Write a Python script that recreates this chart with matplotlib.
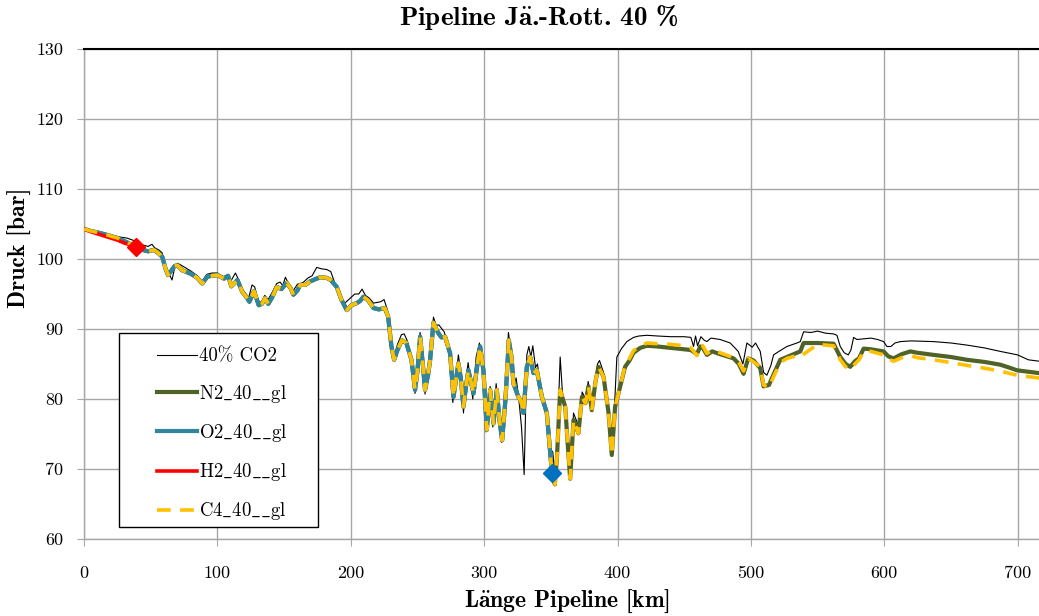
import matplotlib
matplotlib.use("Agg")
import matplotlib.pyplot as plt
from matplotlib.patches import Rectangle

# --- data (km, bar) ---
n2_km = [0, 5, 10, 18, 25, 32, 38.8, 44, 48, 52.5, 56, 58.7, 61, 63, 65, 68, 70, 73.5, 80, 85,
         88.7, 92.5, 100, 105, 108, 110.5, 115, 118.7, 122, 124, 127.5, 131, 133.5, 135.7, 138.2, 141, 144.5, 148, 152, 155,
         157, 160, 162, 166, 169.5, 177, 182, 185, 189.5, 193, 197, 200.5, 204.5, 207, 209.5, 213, 217, 221, 225.5, 228,
         230.5, 232.5, 235, 238.3, 241.7, 245.5, 248.2, 250, 252, 254, 255.7, 258, 259.5, 262, 264, 265.7, 268, 270.7, 274.5, 277,
         280.7, 282.5, 284.5, 286.5, 288.2, 292, 295, 297, 299.5, 302, 304.5, 307, 309.5, 311.5, 313.5, 316, 318.5, 320.5, 322, 325.7,
         328, 329.5, 332, 334.5, 337, 339.5, 343.3, 347, 349, 350.8, 353, 354.5, 357, 359, 360.8, 362.5, 364.5, 367, 370.7, 373.3,
         376, 378.2, 380.7, 383.5, 385.7, 389.5, 393.3, 395.7, 398.2, 402, 405.7, 409, 412, 417, 422, 430, 440, 450, 455, 459.5,
         462, 464, 467, 471, 477, 487, 491, 494.5, 498, 502, 507, 509.5, 513.5, 517, 522, 527, 534.5, 537, 539.5, 550,
         562, 567, 571, 574.5, 578, 581, 584.5, 590, 599.5, 603, 607, 613, 619.5, 625, 637, 650, 662, 675, 687, 695,
         699.5, 708, 716]
n2_bar = [104.3, 104.0, 103.8, 103.4, 103.0, 102.4, 101.7, 101.3, 101.1, 101.3, 100.8, 100.3, 98.7, 97.7, 98.2, 99.0, 99.1, 98.4, 97.9, 97.3,
          96.5, 97.5, 97.7, 97.2, 97.6, 96.1, 97.0, 95.3, 94.5, 93.9, 95.4, 93.4, 93.6, 94.4, 93.6, 94.5, 96.0, 95.7, 96.6, 95.8,
          94.9, 95.5, 96.3, 96.3, 96.8, 97.4, 97.3, 97.0, 96.0, 94.2, 92.7, 93.4, 93.7, 94.0, 94.6, 94.1, 93.0, 92.8, 93.0, 91.8,
          87.5, 85.6, 87.0, 88.4, 88.0, 85.6, 81.3, 84.0, 88.9, 85.0, 81.3, 83.5, 85.6, 90.9, 90.0, 89.4, 88.8, 88.9, 86.5, 80.3,
          85.1, 83.0, 78.9, 82.0, 84.1, 80.8, 85.0, 87.5, 84.0, 75.6, 81.3, 76.5, 81.3, 77.0, 74.1, 80.0, 88.4, 86.0, 82.2, 80.3,
          79.5, 78.0, 84.6, 86.0, 83.7, 84.1, 80.3, 78.0, 73.5, 69.5, 67.8, 71.3, 81.3, 80.0, 78.9, 74.0, 68.6, 77.0, 75.1, 80.3,
          79.4, 81.8, 78.4, 82.5, 84.6, 83.2, 78.0, 72.0, 78.9, 81.8, 84.6, 85.5, 86.6, 87.3, 87.6, 87.5, 87.3, 87.1, 87.0, 86.4,
          87.5, 87.3, 86.3, 86.8, 86.4, 85.8, 85.0, 83.6, 85.8, 85.5, 84.4, 81.8, 82.0, 83.5, 85.6, 86.0, 86.6, 86.8, 88.0, 88.0,
          87.9, 86.0, 85.0, 84.6, 85.4, 85.8, 87.2, 87.1, 86.8, 86.1, 85.8, 86.4, 86.8, 86.6, 86.3, 86.0, 85.6, 85.3, 84.9, 84.4,
          84.1, 83.9, 83.7]

o2_km = [0, 5, 10, 18, 25, 32, 38.8, 44, 48, 52.5, 56, 58.7, 61, 63, 65, 68, 70, 73.5, 80, 85,
         88.7, 92.5, 100, 105, 108, 110.5, 115, 118.7, 122, 124, 127.5, 131, 133.5, 135.7, 138.2, 141, 144.5, 148, 152, 155,
         157, 160, 162, 166, 169.5, 177, 182, 185, 189.5, 193, 197, 200.5, 204.5, 207, 209.5, 213, 217, 221, 225.5, 228,
         230.5, 232.5, 235, 238.3, 241.7, 245.5, 248.2, 250, 252, 254, 255.7, 258, 259.5, 262, 264, 265.7, 268, 270.7, 274.5, 277,
         280.7, 282.5, 284.5, 286.5, 288.2, 292, 295, 297, 299.5, 302, 304.5, 307, 309.5, 311.5, 313.5, 316, 318.5, 320.5, 322, 325.7,
         328, 329.5, 332, 334.5, 337, 339.5, 343.3, 347, 349, 350.8]
o2_bar = [104.3, 104.0, 103.8, 103.4, 103.0, 102.4, 101.7, 101.3, 101.1, 101.3, 100.8, 100.3, 98.7, 97.7, 98.2, 99.0, 99.1, 98.4, 97.9, 97.3,
          96.5, 97.5, 97.7, 97.2, 97.6, 96.1, 97.0, 95.3, 94.5, 93.9, 95.4, 93.4, 93.6, 94.4, 93.6, 94.5, 96.0, 95.7, 96.6, 95.8,
          94.9, 95.5, 96.3, 96.3, 96.8, 97.4, 97.3, 97.0, 96.0, 94.2, 92.7, 93.4, 93.7, 94.0, 94.6, 94.1, 93.0, 92.8, 93.0, 91.8,
          87.5, 85.6, 87.0, 88.4, 88.0, 85.6, 81.3, 84.0, 88.9, 85.0, 81.3, 83.5, 85.6, 90.9, 90.0, 89.4, 88.8, 88.9, 86.5, 80.3,
          85.1, 83.0, 78.9, 82.0, 84.1, 80.8, 85.0, 87.5, 84.0, 75.6, 81.3, 76.5, 81.3, 77.0, 74.1, 80.0, 88.4, 86.0, 82.2, 80.3,
          79.5, 78.0, 84.6, 86.0, 83.7, 84.1, 80.3, 78.0, 73.5, 69.5]

h2_km = [0, 5, 10, 15, 20, 25, 30, 35, 38.8]
h2_bar = [104.3, 103.9, 103.6, 103.3, 103.0, 102.7, 102.3, 102.0, 101.7]

c4_km = n2_km
c4_bar = [104.3, 104.0, 103.8, 103.4, 103.0, 102.4, 101.7, 101.3, 101.1, 101.3, 100.8, 100.3, 98.7, 97.7, 98.2, 99.0, 99.1, 98.4, 97.9, 97.3,
          96.5, 97.5, 97.7, 97.2, 97.6, 96.1, 97.0, 95.3, 94.5, 93.9, 95.4, 93.4, 93.6, 94.4, 93.6, 94.5, 96.0, 95.7, 96.6, 95.8,
          94.9, 95.5, 96.3, 96.3, 96.8, 97.4, 97.3, 97.0, 96.0, 94.2, 92.7, 93.4, 93.7, 94.0, 94.6, 94.1, 93.0, 92.8, 93.0, 91.8,
          87.5, 85.6, 87.0, 88.4, 88.0, 85.6, 81.3, 84.0, 88.9, 85.0, 81.3, 83.5, 85.6, 90.9, 90.0, 89.4, 88.8, 88.9, 86.5, 80.3,
          85.1, 83.0, 78.9, 82.0, 84.1, 80.8, 85.0, 87.5, 84.0, 75.6, 81.3, 76.5, 81.3, 77.0, 74.1, 80.0, 88.4, 86.0, 82.2, 80.3,
          79.5, 78.0, 84.6, 86.0, 83.7, 84.1, 80.3, 78.0, 73.5, 69.5, 67.8, 71.3, 81.3, 80.0, 78.9, 74.0, 68.6, 77.0, 75.1, 80.3,
          79.4, 81.8, 78.4, 82.5, 84.6, 83.2, 78.0, 72.0, 78.9, 81.8, 84.8, 85.8, 86.9, 87.6, 88.0, 87.9, 87.8, 87.6, 87.3, 86.2,
          87.7, 87.6, 86.5, 87.0, 86.6, 85.9, 85.2, 84.0, 85.8, 85.3, 84.6, 82.0, 81.6, 83.2, 85.2, 85.8, 86.2, 86.0, 86.4, 87.8,
          87.6, 85.6, 84.6, 84.2, 85.0, 85.6, 86.8, 86.8, 86.3, 85.7, 85.4, 85.9, 86.2, 85.9, 85.6, 85.2, 84.8, 84.4, 84.0, 83.6,
          83.4, 83.2, 83.0]

co2_km = [0, 10, 20, 28, 32, 38, 44, 48, 51, 53, 56, 58.5, 61, 63.5, 66, 68, 70, 73, 80, 85,
          88.5, 92, 96, 100, 104, 107, 110, 113.5, 116, 119, 123.5, 126, 128, 130.5, 133, 135.5, 138, 141, 144.5, 147,
          149, 151, 153, 157, 160, 164, 168, 171, 174.5, 178, 182, 185, 188, 192, 195, 199, 203, 206, 208.5, 211,
          214, 217, 220, 222.5, 225, 227.5, 230.5, 232.5, 235, 238, 240, 242, 245.5, 248.2, 250, 252, 254, 255.7, 258, 260,
          262, 264, 266, 270, 274, 276.5, 280.7, 283, 284.5, 286.5, 288, 291.5, 294, 296.5, 299, 301.5, 304.5, 306.5, 309, 311.5,
          313, 316, 318.2, 320.5, 322, 324, 326, 328, 330, 332, 333.5, 335, 336.5, 338.5, 340, 343, 347, 349, 351.5, 353,
          355, 357, 359, 361, 363, 365, 367, 371, 373.5, 376, 378, 381, 385, 386.5, 390, 393, 395.5, 398, 399.5, 403,
          407, 412, 416, 422, 430, 440, 450, 455, 457, 458.5, 460, 462.5, 465, 467, 470, 477, 484.5, 490.5, 494, 497,
          501, 503.5, 507, 509.5, 512, 515, 517, 521, 527, 534.5, 537, 539.5, 545, 550, 556, 562, 564.5, 567, 570, 573,
          575, 577, 579.5, 585, 590, 595, 599.5, 602, 605, 608, 612, 620, 637, 650, 662, 675, 687, 700, 708, 716]
co2_bar = [104.4, 103.9, 103.4, 103.1, 103.0, 102.6, 102.0, 101.8, 102.1, 101.6, 101.3, 100.9, 99.0, 98.0, 97.0, 98.8, 99.4, 99.1, 98.3, 97.6,
           96.8, 97.8, 98.0, 98.0, 97.5, 97.6, 96.8, 98.0, 97.0, 95.6, 94.5, 96.3, 96.0, 94.0, 93.8, 94.8, 94.2, 95.2, 96.5, 96.7,
           96.2, 97.4, 96.6, 95.5, 96.4, 96.6, 97.3, 97.6, 98.8, 98.6, 98.5, 98.2, 96.6, 95.1, 93.6, 94.3, 95.0, 95.0, 95.7, 94.8,
           94.4, 93.7, 93.8, 93.9, 94.2, 92.7, 88.0, 86.0, 87.8, 89.2, 89.3, 88.5, 86.0, 80.8, 85.0, 89.5, 85.5, 80.7, 84.5, 87.0,
           91.7, 90.5, 90.6, 89.6, 87.2, 79.5, 86.3, 83.0, 78.0, 83.0, 85.2, 80.0, 86.0, 88.0, 84.5, 75.3, 81.8, 76.0, 82.2, 77.0,
           73.8, 81.0, 89.5, 86.3, 82.0, 83.0, 80.0, 76.0, 69.2, 86.3, 87.5, 86.0, 87.6, 84.5, 85.0, 80.0, 77.6, 73.0, 72.4, 69.0,
           75.0, 86.0, 80.0, 78.0, 75.0, 69.0, 78.0, 76.0, 81.0, 80.0, 82.5, 79.0, 85.0, 85.5, 83.5, 79.0, 72.5, 80.0, 86.0, 87.2,
           88.2, 88.8, 89.0, 89.1, 89.0, 88.9, 88.9, 88.8, 87.5, 89.0, 87.6, 88.9, 88.4, 88.2, 88.7, 88.5, 88.0, 86.8, 85.0, 88.0,
           87.4, 88.0, 86.8, 83.8, 83.4, 84.8, 86.3, 86.8, 87.5, 88.0, 88.2, 89.6, 89.5, 89.7, 89.4, 89.3, 89.1, 87.5, 86.6, 86.3,
           87.0, 88.8, 88.5, 88.6, 88.7, 88.5, 88.2, 87.5, 87.5, 88.0, 88.2, 88.3, 88.2, 88.0, 87.7, 87.3, 86.8, 86.3, 85.6, 85.4]

h2_end = (38.8, 101.7)
o2_end = (350.8, 69.5)

# cmr10 has no underscore glyph, so the series names go through mathtext (cm)
labels = ['40% CO2', r'$\mathrm{N2\_40\_\_gl}$', r'$\mathrm{O2\_40\_\_gl}$',
          r'$\mathrm{H2\_40\_\_gl}$', r'$\mathrm{C4\_40\_\_gl}$']
x_ticks = [0, 100, 200, 300, 400, 500, 600, 700]
y_ticks = [60, 70, 80, 90, 100, 110, 120, 130]

plt.rcParams['font.family'] = ['cmr10', 'DejaVu Serif']
plt.rcParams['mathtext.fontset'] = 'cm'
plt.rcParams['axes.unicode_minus'] = False
bold_fam = ['cmb10', 'DejaVu Serif']
grid_col = '#a6a6a6'

W, H = 1039, 616
fig = plt.figure(figsize=(W / 100, H / 100), dpi=100)
ax = fig.add_axes([84 / W, 77 / H, 955 / W, 490 / H])

ax.plot(co2_km, co2_bar, color='black', lw=0.8, label=labels[0], zorder=2)
ax.plot(n2_km, n2_bar, color='#4f6228', lw=3.0, label=labels[1], zorder=3)
ax.plot(o2_km, o2_bar, color='#31859c', lw=3.0, label=labels[2], zorder=3.1)
ax.plot(h2_km, h2_bar, color='#ff0000', lw=2.6, label=labels[3], zorder=3.2)
ax.plot(c4_km, c4_bar, color='#ffc000', lw=2.6, dashes=(3.8, 2.6), label=labels[4], zorder=3.3)
ax.plot([h2_end[0]], [h2_end[1]], marker='D', ms=9.5, color='#ff0000', zorder=4)
ax.plot([o2_end[0]], [o2_end[1]], marker='D', ms=9.5, color='#0070c0', zorder=4)

ax.set_xlim(0, 716)
ax.set_ylim(60, 130)
ax.set_xticks(x_ticks)
ax.set_yticks(y_ticks)
ax.grid(True, color=grid_col, lw=1.0, zorder=0)
ax.set_axisbelow(True)
ax.tick_params(axis='both', direction='out', length=5, color=grid_col, labelsize=13)
ax.tick_params(axis='x', pad=14)
ax.tick_params(axis='y', pad=10)
ax.spines['right'].set_visible(False)
ax.spines['top'].set_color('black')
ax.spines['top'].set_linewidth(1.5)
for s in ['left', 'bottom']:
    ax.spines[s].set_color(grid_col)
    ax.spines[s].set_linewidth(1.0)

# legend box drawn by hand so padding matches
ax.add_patch(Rectangle((0.0366, 0.0245), 0.2084, 0.3959, transform=ax.transAxes,
                       facecolor='white', edgecolor='black', lw=1.0, zorder=5))
leg = ax.legend(loc='center', bbox_to_anchor=(0.1445, 0.2122), frameon=False, fontsize=13.5,
                handlelength=2.15, handletextpad=0.12, labelspacing=0.92)
leg.set_zorder(6)

fig.text(538.5 / W, 1 - 17 / H, r'Pipeline J$\mathbf{\ddot{a}}$.-Rott. 40 %', ha='center', va='center',
         fontsize=19.5, family=bold_fam, weight='bold')
fig.text(567 / W, 1 - 601 / H, r'L$\mathbf{\ddot{a}}$nge Pipeline [km]', ha='center', va='center',
         fontsize=17, family=bold_fam, weight='bold')
fig.text(20 / W, 1 - 248 / H, 'Druck [bar]', ha='center', va='center', rotation=90,
         fontsize=17, family=bold_fam, weight='bold')

fig.savefig('out.png', dpi=100)
